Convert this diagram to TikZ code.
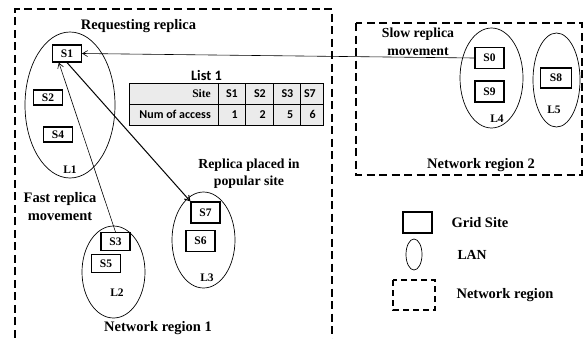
\documentclass[tikz,border=0pt]{standalone}
\usepackage{fontspec}
\setmainfont{Liberation Serif}
\newfontfamily\calibri{Carlito}
\usetikzlibrary{arrows.meta,shapes.geometric}

\tikzset{
    site/.style={draw, line width=1.1pt, minimum width=29pt, minimum height=18pt, inner sep=0pt,
        font=\bfseries\fontsize{11.5}{12}\selectfont},
    lan/.style={draw, ellipse, line width=0.7pt, inner sep=0pt},
    region/.style={line width=1.4pt, dash pattern=on 8pt off 4.5pt},
    caption/.style={align=center, font=\bfseries\fontsize{14.5}{18}\selectfont},
    tag/.style={font=\bfseries\fontsize{11.5}{12}\selectfont},
    cell/.style={anchor=east, inner sep=0pt, font=\calibri\bfseries\fontsize{12}{13}\selectfont},
    move/.style={line width=0.6pt, -{Straight Barb[length=5pt, width=6pt]}},
}

\begin{document}
\begin{tikzpicture}[x=1pt, y=-1pt]
    \useasboundingbox (0, 0) rectangle (585, 338);

    \draw[region] (15, 350) -- (15, 9) -- (332, 9) -- (332, 350);
    \draw[region] (356, 23) rectangle (582, 175);

    \node[lan, minimum width=90pt, minimum height=146pt] (l1) at (70, 105) {};
    \node[lan, minimum width=63pt, minimum height=92pt] (l2) at (113.5, 272) {};
    \node[lan, minimum width=63pt, minimum height=96pt] (l3) at (203.5, 240) {};
    \node[lan, minimum width=63pt, minimum height=100pt] (l4) at (491.5, 78) {};
    \node[lan, minimum width=47pt, minimum height=94pt] (l5) at (556.5, 80) {};

    \node[tag] (t1) at (70, 170) {L1};
    \node[tag] (t2) at (117, 293) {L2};
    \node[tag] (t3) at (207, 278) {L3};
    \node[tag] (t4) at (497, 119) {L4};
    \node[tag] (t5) at (554, 110) {L5};

    \node[site, minimum height=17pt] (s1) at (67, 53.5) {S1};
    \node[site, minimum height=15pt] (s2) at (48, 97.5) {S2};
    \node[site, minimum height=15pt] (s4) at (58, 134.5) {S4};
    \node[site] (s3) at (115.5, 241.5) {S3};
    \node[site] (s5) at (106, 263.5) {S5};
    \node[site, minimum height=21pt] (s7) at (205.5, 212.5) {S7};
    \node[site, minimum height=21pt] (s6) at (200.5, 241) {S6};
    \node[site, minimum height=21pt] (s0) at (489.5, 58) {S0};
    \node[site, minimum height=21pt] (s9) at (489.5, 91.5) {S9};
    \node[site, minimum width=31pt, minimum height=20pt] (s8) at (556, 78) {S8};

    \node[caption] (req) at (138.5, 26) {Requesting replica};
    \node[caption] (fast) at (60, 207) {Fast replica\\movement};
    \node[caption, font=\bfseries\fontsize{13.8}{17}\selectfont] (placed) at (249, 173.5) {Replica placed in\\popular site};
    \node[caption, font=\bfseries\fontsize{13.8}{18}\selectfont] (slow) at (418, 42) {Slow replica\\movement};
    \node[caption] (nr1) at (158, 328) {Network region 1};
    \node[caption] (nr2) at (481, 165) {Network region 2};

    \node[font=\calibri\bfseries\fontsize{14.4}{15}\selectfont] (list) at (206.5, 75) {List 1};
    \fill[black!8] (129, 83) rectangle (323, 125);
    \draw (129, 104) -- (323, 104);
    \foreach \x in {218, 245, 273, 300.5}
        \draw[line width=0.9pt] (\x, 83) -- (\x, 125);
    \draw[line width=1pt] (129, 83) rectangle (323, 125);
    \node[cell, font=\bfseries\fontsize{11.5}{12}\selectfont] (site) at (211, 94) {Site};
    \node[cell] (num) at (211, 114.5) {Num of access};
    \foreach \x/\s/\n in {245/S1/1, 273/S2/2, 300.5/S3/5, 323/S7/6} {
        \node[cell] at (\x - 7, 94) {\s};
        \node[cell] at (\x - 7, 114.5) {\n};
    }

    \draw[move] (s0.west) -- (s1.east);
    \draw[move] (s3.north) -- (s1.-132);
    \draw[move, line width=1pt] (s1.south) -- (s7.north west);

    \node[site, minimum height=21pt] (key1) at (417.5, 222.5) {};
    \node[lan, minimum width=16pt, minimum height=31pt] (key2) at (414, 254.5) {};
    \draw[region, line width=1.2pt, dash pattern=on 6pt off 4pt] (393, 280) rectangle (435, 310);
    \node[caption, anchor=west] (grid) at (448, 223) {Grid Site};
    \node[caption, anchor=west, font=\bfseries\fontsize{13.8}{15}\selectfont] (lan) at (454, 255) {LAN};
    \node[caption, anchor=west] (nreg) at (453, 295) {Network region};
\end{tikzpicture}
\end{document}
